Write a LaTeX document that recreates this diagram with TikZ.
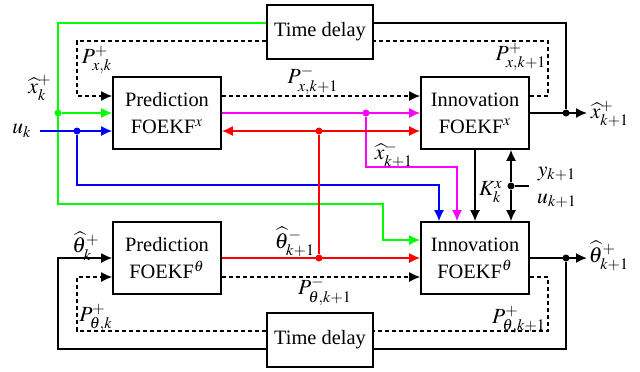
\documentclass[tikz,border=0pt]{standalone}
\usepackage{mathptmx}
\usepackage{fontspec}
\setmainfont{Liberation Serif}
\usetikzlibrary{calc,arrows.meta}
\definecolor{gr}{RGB}{0,255,0}
\definecolor{mg}{RGB}{255,0,255}
\definecolor{rd}{RGB}{255,0,0}
\definecolor{bl}{RGB}{0,0,255}
\begin{document}
\begin{tikzpicture}[x=0.5pt,y=-0.5pt,
  font=\fontsize{10.2}{13.5}\selectfont,
  box/.style={draw, line width=0.8pt, minimum width=54pt, minimum height=36pt, align=center, inner sep=0pt},
  tdbox/.style={draw, line width=0.8pt, minimum width=53pt, minimum height=27pt, inner sep=0pt},
  ln/.style={line width=0.8pt},
  tip/.tip={Latex[length=5.5pt,width=5pt]},
  arr/.style={ln, -tip},
  dsh/.style={ln, dash pattern=on 2pt off 1.5pt},
  dot/.style={circle, fill, inner sep=0pt, minimum size=3.5pt},
  lbl/.style={inner sep=0pt, font=\fontsize{10.8}{13}\selectfont}]
\useasboundingbox (0,0) rectangle (640,371);
% boxes
\node[box] (PX) at (167,113) {Prediction\\FOEKF$^{x}$};
\node[box] (IX) at (475,113) {Innovation\\FOEKF$^{x}$};
\node[box] (PT) at (167,258) {Prediction\\FOEKF$^{\theta}$};
\node[box] (IT) at (475,258) {Innovation\\FOEKF$^{\theta}$};
\node[tdbox] (TD1) at (320,32) {Time delay};
\node[tdbox] (TD2) at (320,340) {Time delay};
% dots
\node[dot, gr] (gdot) at (58,113) {};
\node[dot, bl] (bdot) at (77,131) {};
\node[dot, mg] (mdot) at (366,113) {};
\node[dot, rd] (rdot1) at (319,131) {};
\node[dot, rd] (rdot2) at (319,258) {};
\node[dot] (ydot) at (511,186) {};
\node[dot] (xodot) at (566,113) {};
\node[dot] (todot) at (566,258) {};
% labels
\node[lbl] (lxk) at (40,88) {$\widehat{x}_k^{+}$};
\node[lbl] (luk) at (22,131) {$u_k$};
\node[lbl] (lPxk) at (97,60) {$P_{x,k}^{+}$};
\node[lbl] (lPxm) at (313,80) {$P_{x,k+1}^{-}$};
\node[lbl] (lPxp) at (521,57) {$P_{x,k+1}^{+}$};
\node[lbl] (lxo) at (610,114) {$\widehat{x}_{k+1}^{+}$};
\node[lbl] (lxm) at (394,155) {$\widehat{x}_{k+1}^{-}$};
\node[lbl] (lK) at (491,192) {$K_k^{x}$};
\node[lbl] (ly) at (557,174) {$y_{k+1}$};
\node[lbl] (lu) at (557,201) {$u_{k+1}$};
\node[lbl] (ltk) at (86,246) {$\widehat{\theta}_k^{+}$};
\node[lbl] (ltm) at (295,242) {$\widehat{\theta}_{k+1}^{-}$};
\node[lbl] (lPtm) at (325,291) {$P_{\theta,k+1}^{-}$};
\node[lbl] (lPtk) at (96,318) {$P_{\theta,k}^{+}$};
\node[lbl] (lPtp) at (519,320) {$P_{\theta,k+1}^{+}$};
\node[lbl] (lto) at (609,256) {$\widehat{\theta}_{k+1}^{+}$};
% green
\draw[arr, gr] ($(TD1.west)+(0,-9)$) -| (58,204) -| ($(IT.west)+(-37,-18)$) -- ($(IT.west)+(0,-18)$);
\draw[arr, gr] (gdot) -- (PX.west);
% blue
\draw[arr, bl] (40,131) -- ($(PX.west)+(0,18)$);
\draw[arr, bl] (bdot) |- ($(IT.north)+(-36,-36)$) -- ($(IT.north)+(-36,0)$);
% magenta
\draw[arr, mg] (PX.east) -- (IX.west);
\draw[arr, mg] (mdot) |- ($(IT.north)+(-18,-54)$) -- ($(IT.north)+(-18,0)$);
% red
\draw[ln, rd, tip-tip] ($(PX.east)+(0,18)$) -- ($(IX.west)+(0,18)$);
\draw[ln, rd] (rdot1) -- (rdot2);
\draw[arr, rd] (PT.east) -- (IT.west);
% dashed x
\draw[dsh, -tip] ($(TD1.west)+(0,9)$) -| (77,96) -- ($(PX.west)+(0,-17)$);
\draw[dsh, -tip] ($(PX.east)+(0,-17)$) -- ($(IX.west)+(0,-17)$);
\draw[dsh] ($(IX.east)+(0,-17)$) -| (548,41) -- ($(TD1.east)+(0,9)$);
% black x
\draw[ln] ($(TD1.east)+(0,-9)$) -| (xodot);
\draw[arr] (IX.east) -- (587,113);
% K, y, u
\draw[arr] (IX.south) -- (IT.north);
\draw[arr] (ydot) -- ($(IX.south)+(36,0)$);
\draw[arr] (ydot) -- ($(IT.north)+(36,0)$);
\draw[ln] (ydot) -- (529,186);
% theta black
\draw[arr] ($(TD2.west)+(0,9)$) -| (58,258) -- (PT.west);
\draw[arr] (IT.east) -- (587,258);
\draw[ln] (todot) |- ($(TD2.east)+(0,9)$);
% theta dashed
\draw[dsh, -tip] ($(TD2.west)+(0,-9)$) -| (77,277) -- ($(PT.west)+(0,19)$);
\draw[dsh, -tip] ($(PT.east)+(0,19)$) -- ($(IT.west)+(0,19)$);
\draw[dsh] ($(IT.east)+(0,19)$) -| (548,331) -- ($(TD2.east)+(0,-9)$);
\end{tikzpicture}
\end{document}
